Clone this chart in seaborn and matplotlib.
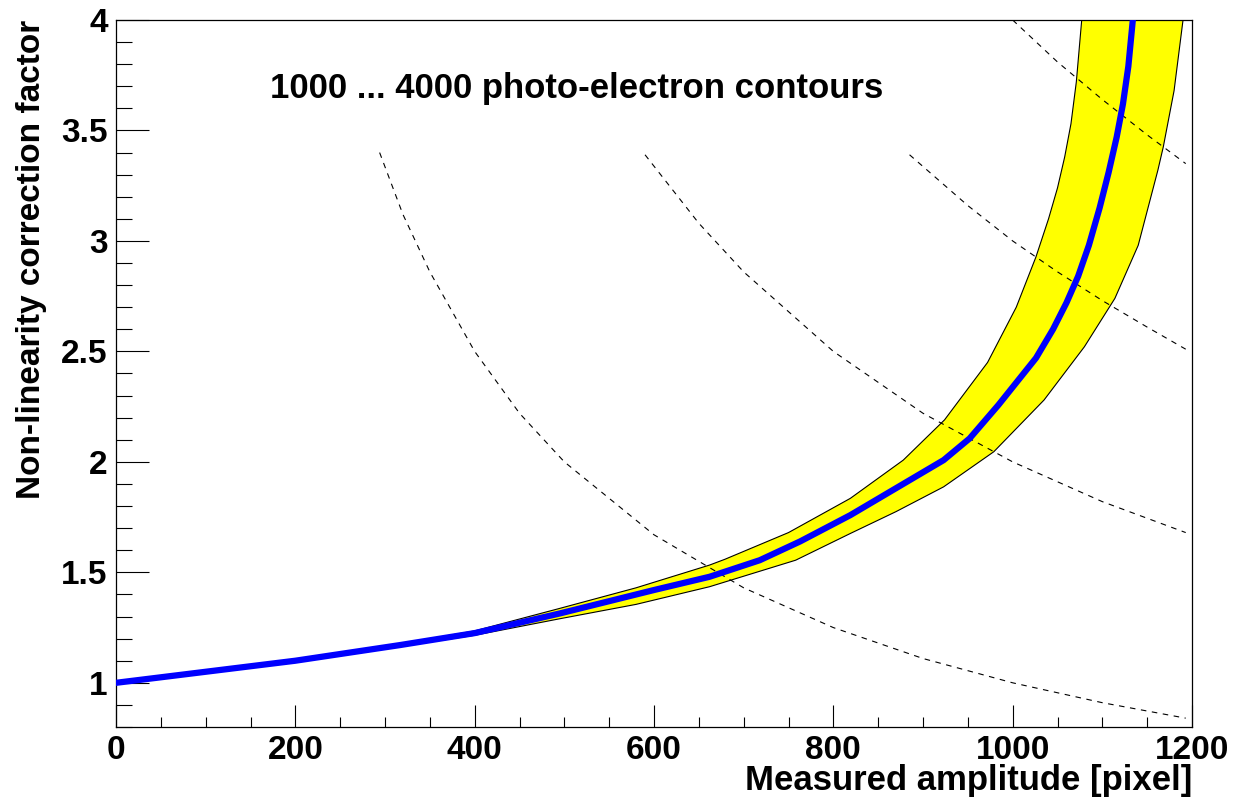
import seaborn as sns
import matplotlib.pyplot as plt
import numpy as np
from matplotlib.ticker import MultipleLocator

# correction curve (blue)
amp_mean = [0, 100, 200, 317, 400, 495, 600, 662, 718, 763, 819, 923, 952, 984, 1026, 1045, 1060, 1073, 1085, 1097, 1107, 1116, 1123, 1129, 1134]
fac_mean = [1.0, 1.05, 1.10, 1.171, 1.225, 1.314, 1.42, 1.48, 1.555, 1.64, 1.759, 2.008, 2.106, 2.257, 2.47, 2.60, 2.72, 2.84, 2.98, 3.15, 3.31, 3.47, 3.62, 3.79, 4.0]

# upper / lower edge of the yellow error band
amp_hi = [0, 200, 317, 400, 495, 580, 662, 679, 750, 819, 878, 924, 972, 1004, 1026, 1040, 1050, 1058, 1065, 1071, 1077]
fac_hi = [1.0, 1.10, 1.176, 1.235, 1.337, 1.43, 1.533, 1.559, 1.68, 1.835, 2.008, 2.19, 2.45, 2.70, 2.928, 3.10, 3.24, 3.38, 3.53, 3.72, 4.0]
amp_lo = [0, 200, 317, 400, 495, 580, 662, 758, 819, 870, 923, 979, 1035, 1080, 1114, 1140, 1162, 1168, 1180, 1190]
fac_lo = [1.0, 1.10, 1.165, 1.215, 1.29, 1.355, 1.435, 1.555, 1.676, 1.775, 1.887, 2.046, 2.28, 2.521, 2.74, 2.98, 3.321, 3.426, 3.68, 4.0]

# photo-electron contours (dashed)
pe1000_x = [294, 320, 350, 400, 450, 500, 600, 700, 800, 900, 1000, 1100, 1193]
pe1000_y = [3.40, 3.12, 2.86, 2.50, 2.22, 2.00, 1.67, 1.43, 1.25, 1.11, 1.00, 0.91, 0.84]
pe2000_x = [590, 650, 700, 800, 900, 1000, 1100, 1193]
pe2000_y = [3.39, 3.08, 2.86, 2.50, 2.22, 2.00, 1.82, 1.68]
pe3000_x = [885, 950, 1000, 1050, 1100, 1150, 1193]
pe3000_y = [3.39, 3.16, 3.00, 2.86, 2.73, 2.61, 2.51]
pe4000_x = [1000, 1050, 1100, 1150, 1193]
pe4000_y = [4.00, 3.81, 3.64, 3.48, 3.35]

sns.set_style("ticks")
plt.rcParams['font.family'] = ['Liberation Sans', 'DejaVu Sans']
plt.rcParams['font.weight'] = 'bold'
plt.rcParams['text.color'] = 'black'
plt.rcParams['axes.labelcolor'] = 'black'

fig = plt.figure(figsize=(12.34, 7.99), dpi=100)
ax = fig.add_axes([116/1234, 1 - 727/799, 1076/1234, 707/799])

# band
band_x = np.concatenate([amp_hi, amp_lo[::-1]])
band_y = np.concatenate([fac_hi, fac_lo[::-1]])
ax.fill(band_x, band_y, color='#ffff00', lw=0, zorder=1)
sns.lineplot(x=amp_hi, y=fac_hi, color='black', lw=0.8, ax=ax, estimator=None, zorder=2)
sns.lineplot(x=amp_lo, y=fac_lo, color='black', lw=0.8, ax=ax, estimator=None, zorder=2)

for cx, cy in [(pe1000_x, pe1000_y), (pe2000_x, pe2000_y), (pe3000_x, pe3000_y), (pe4000_x, pe4000_y)]:
    sns.lineplot(x=cx, y=cy, color='black', lw=0.8, ax=ax, estimator=None,
                 linestyle=(0, (5, 5)), zorder=3)

sns.lineplot(x=amp_mean, y=fac_mean, color='#0000ff', lw=4.5, ax=ax, estimator=None, zorder=4)

ax.set_xlim(0, 1200)
ax.set_ylim(0.8, 4)
ax.xaxis.set_major_locator(MultipleLocator(200))
ax.xaxis.set_minor_locator(MultipleLocator(50))
ax.yaxis.set_major_locator(MultipleLocator(0.5))
ax.yaxis.set_minor_locator(MultipleLocator(0.1))
ax.yaxis.set_major_formatter(plt.FuncFormatter(lambda v, p: '%g' % v))

ax.tick_params(axis='both', which='both', direction='in', width=0.8, colors='black',
               labelsize=24, top=False, right=False)
ax.tick_params(axis='y', which='major', length=24, pad=6)
ax.tick_params(axis='y', which='minor', length=11.5)
ax.tick_params(axis='x', which='major', length=16, pad=6)
ax.tick_params(axis='x', which='minor', length=7.5)
for s in ax.spines.values():
    s.set_visible(True)
    s.set_linewidth(0.9)
    s.set_color('black')

ax.set_xlabel('Measured amplitude [pixel]', fontsize=25, fontweight='bold', loc='right')
ax.xaxis.set_label_coords(1.0, -0.053)
ax.set_ylabel('Non-linearity correction factor', fontsize=24, fontweight='bold', loc='top')
ax.yaxis.set_label_coords(-0.064, 1.0)

ax.text(172, 3.69, '1000 ... 4000 photo-electron contours', fontsize=25,
        fontweight='bold', ha='left', va='center')

fig.savefig('out.png', dpi=100)
